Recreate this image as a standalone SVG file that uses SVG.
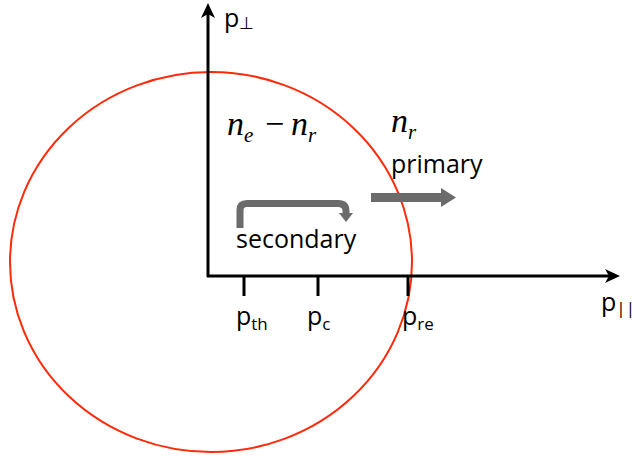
<svg xmlns="http://www.w3.org/2000/svg" width="634" height="456" viewBox="0 0 634 456">
<style>
.lbl{font-family:"Open Sans","Liberation Sans",sans-serif;font-size:25px;fill:#000}
.sub{font-size:17px}
.math{font-family:"Liberation Serif",serif;font-style:italic;font-size:34px;fill:#000}
.msub{font-size:21px}
.axis{stroke:#000;stroke-width:3;fill:none}
.gray{fill:#6b6b6b}
</style>
<rect width="634" height="456" fill="#fff"/>
<g id="circle">
<ellipse cx="211" cy="262" rx="201" ry="190" fill="none" stroke="#ff2a0a" stroke-width="2"/>
</g>
<g id="axes">
<line class="axis" x1="208" y1="277" x2="208" y2="12"/>
<polygon points="208,3 201,18 208,14 215,18" fill="#000"/>
<line class="axis" x1="207" y1="276" x2="612" y2="276"/>
<polygon points="620,276 605,269 609,276 605,283" fill="#000"/>
<line class="axis" x1="244" y1="276" x2="244" y2="296"/>
<line class="axis" x1="318" y1="276" x2="318" y2="296"/>
<line class="axis" x1="408" y1="276" x2="408" y2="296"/>
</g>
<g id="labels">
<text class="lbl" x="224" y="27">p<tspan class="sub" dy="2">⊥</tspan></text>
<text class="lbl" x="601" y="311">p<tspan class="sub" dy="3">||</tspan></text>
<text class="lbl" x="236" y="325">p<tspan class="sub" dy="5">th</tspan></text>
<text class="lbl" x="307" y="325">p<tspan class="sub" dy="5">c</tspan></text>
<text class="lbl" x="402" y="325">p<tspan class="sub" dy="5">re</tspan></text>
<text class="math" x="227" y="135">n<tspan class="msub" dy="7">e</tspan><tspan x="265" dy="-7" font-style="normal">−</tspan><tspan x="291">n</tspan><tspan class="msub" dy="7">r</tspan></text>
<text class="math" x="391" y="132">n<tspan class="msub" dy="7">r</tspan></text>
<text class="lbl" x="391" y="173">primary</text>
<text class="lbl" x="236" y="248">secondary</text>
</g>
<g id="connectors">
<path d="M240,228 V210 Q240,203.5 247,203.5 H338 Q346,203.5 346,211 V214" fill="none" stroke="#6b6b6b" stroke-width="7"/>
<polygon class="gray" points="339,213 353,213 346,222"/>
<rect class="gray" x="371" y="193" width="72" height="9"/>
<polygon class="gray" points="441,188 456,197.5 441,207"/>
</g>
</svg>
